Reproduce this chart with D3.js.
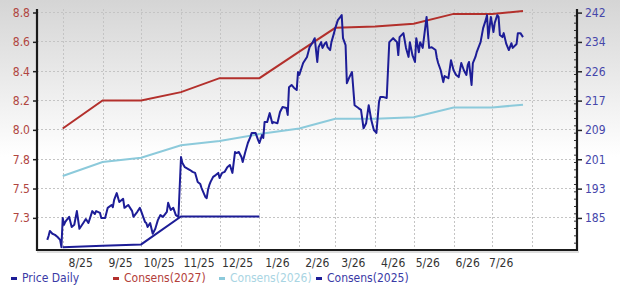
<!DOCTYPE html>
<html><head><meta charset="utf-8">
<script src="https://cdn.jsdelivr.net/npm/d3@7"></script>
<style>
html,body{margin:0;padding:0;background:#fff;}
svg{display:block;}
text{font-family:"DejaVu Sans Condensed","DejaVu Sans",sans-serif;font-stretch:condensed;font-size:12px;}
</style></head><body>
<svg id="chart" width="620" height="285"></svg>
<script>
// ---------- DATA ----------
const leftTicks  = [8.8, 8.59, 8.38, 8.17, 7.96, 7.75, 7.54, 7.33];
const leftLabels = ["8.8","8.6","8.4","8.2","8.0","7.8","7.5","7.3"];
const rightTicks  = [242, 233.86, 225.71, 217.57, 209.43, 201.29, 193.14, 185];
const rightLabels = ["242","234","226","217","209","201","193","185"];
const monthLabels = ["8/25","9/25","10/25","11/25","12/25","1/26","2/26","3/26","4/26","5/26","6/26","7/26"];
const labelDates  = ["2025-08-15","2025-09-15","2025-10-15","2025-11-15","2025-12-15","2026-01-15","2026-02-15","2026-03-15","2026-04-15","2026-05-12","2026-06-12","2026-07-08"];
const gridDates   = ["2025-08-01","2025-09-01","2025-10-01","2025-11-01","2025-12-01","2026-01-01","2026-02-01","2026-03-01","2026-04-01","2026-05-01","2026-06-01","2026-07-01","2026-08-01"];

const consDates = ["2025-08-01","2025-09-01","2025-10-01","2025-11-01","2025-12-01","2026-01-01","2026-02-01","2026-03-01","2026-04-01","2026-05-01","2026-06-01","2026-07-01","2026-07-25"];
const cons2027 = [7.97, 8.17, 8.17, 8.23, 8.33, 8.33, 8.52, 8.69, 8.70, 8.72, 8.79, 8.79, 8.81];
const cons2026 = [7.63, 7.73, 7.76, 7.85, 7.88, 7.93, 7.97, 8.04, 8.04, 8.05, 8.12, 8.12, 8.14];
const cons2025 = [7.12, 7.13, 7.14, 7.34, 7.34, 7.34];

const priceDates = ["2025-07-20","2025-07-21","2025-07-22","2025-07-24","2025-07-26","2025-07-28","2025-07-30","2025-07-31","2025-08-01","2025-08-02",
"2025-08-03","2025-08-04","2025-08-06","2025-08-08","2025-08-10","2025-08-12","2025-08-14","2025-08-17","2025-08-19","2025-08-21",
"2025-08-24","2025-08-26","2025-08-27","2025-08-30","2025-08-31","2025-09-03","2025-09-05","2025-09-08","2025-09-09","2025-09-10",
"2025-09-12","2025-09-14","2025-09-17","2025-09-18","2025-09-21","2025-09-24","2025-09-25","2025-09-28","2025-09-30","2025-10-01",
"2025-10-04","2025-10-05","2025-10-06","2025-10-08","2025-10-10","2025-10-12","2025-10-14","2025-10-16","2025-10-18","2025-10-21",
"2025-10-22","2025-10-24","2025-10-26","2025-10-28","2025-10-30","2025-11-01","2025-11-02","2025-11-04","2025-11-05","2025-11-08",
"2025-11-10","2025-11-12","2025-11-14","2025-11-16","2025-11-17","2025-11-20","2025-11-21","2025-11-22","2025-11-23","2025-11-24",
"2025-11-26","2025-11-28","2025-11-30","2025-12-01","2025-12-03","2025-12-05","2025-12-07","2025-12-09","2025-12-11","2025-12-13",
"2025-12-14","2025-12-16","2025-12-18","2025-12-19","2025-12-21","2025-12-23","2025-12-25","2025-12-26","2025-12-28","2025-12-29",
"2025-12-31","2026-01-01","2026-01-03","2026-01-04","2026-01-05","2026-01-07","2026-01-09","2026-01-11","2026-01-12","2026-01-15",
"2026-01-17","2026-01-19","2026-01-22","2026-01-23","2026-01-24","2026-01-26","2026-01-28","2026-01-30","2026-01-31","2026-02-01",
"2026-02-04","2026-02-07","2026-02-09","2026-02-11","2026-02-13","2026-02-15","2026-02-16","2026-02-18","2026-02-19","2026-02-21",
"2026-02-22","2026-02-23","2026-02-25","2026-02-26","2026-02-28","2026-03-01","2026-03-03","2026-03-05","2026-03-06","2026-03-07",
"2026-03-09","2026-03-10","2026-03-12","2026-03-14","2026-03-16","2026-03-19","2026-03-21","2026-03-23","2026-03-25","2026-03-27",
"2026-03-29","2026-03-31","2026-04-02","2026-04-04","2026-04-05","2026-04-07","2026-04-10","2026-04-12","2026-04-15","2026-04-18",
"2026-04-19","2026-04-20","2026-04-23","2026-04-25","2026-04-27","2026-04-28","2026-04-30","2026-05-02","2026-05-03","2026-05-05",
"2026-05-06","2026-05-08","2026-05-11","2026-05-13","2026-05-15","2026-05-18","2026-05-19","2026-05-20","2026-05-22","2026-05-24",
"2026-05-25","2026-05-28","2026-05-30","2026-06-01","2026-06-03","2026-06-05","2026-06-07","2026-06-09","2026-06-11","2026-06-12",
"2026-06-13","2026-06-15","2026-06-16","2026-06-18","2026-06-19","2026-06-22","2026-06-24","2026-06-26","2026-06-27","2026-06-28",
"2026-06-30","2026-07-02","2026-07-03","2026-07-05","2026-07-06","2026-07-07","2026-07-09","2026-07-10","2026-07-12","2026-07-14",
"2026-07-16","2026-07-17","2026-07-20","2026-07-21","2026-07-23","2026-07-25"];
const priceValues = [178.9,180.0,181.4,180.6,180.3,179.7,178.9,176.9,185.0,183.1,
183.9,184.4,185.3,182.5,183.1,186.9,182.0,183.6,184.7,183.6,
186.9,186.1,186.9,186.4,185.0,185.0,187.8,188.6,188.0,190.0,
191.9,189.4,190.3,187.8,188.6,186.9,185.3,186.7,187.8,186.9,
183.9,183.6,182.5,183.6,180.6,182.0,184.4,185.8,185.3,186.7,
189.2,187.2,187.8,185.8,185.3,201.9,200.3,199.1,198.9,198.3,
197.8,197.5,195.0,194.4,193.3,190.8,190.5,192.8,194.1,195.0,
196.4,196.9,197.5,196.1,197.5,197.8,199.1,199.7,197.5,203.3,
203.0,203.3,201.9,200.5,203.3,205.8,207.5,208.6,208.6,208.6,
206.6,205.8,208.0,207.2,211.6,211.6,214.1,211.3,211.6,211.3,
214.4,215.8,215.5,213.6,221.3,221.9,221.1,220.5,225.5,224.7,
228.0,229.7,232.4,233.5,234.9,228.3,232.4,233.8,232.2,233.5,
233.8,232.4,231.6,233.8,236.3,237.7,239.9,240.8,241.3,234.9,
233.0,222.4,224.1,225.5,216.3,215.5,215.0,209.9,211.3,216.3,
212.2,209.4,208.6,217.2,218.6,218.6,218.3,233.8,234.9,233.8,
230.2,235.2,236.3,232.2,229.7,233.8,230.2,228.3,234.9,231.0,
233.8,232.2,240.8,232.2,232.4,231.6,229.4,228.0,226.0,222.7,
224.4,223.8,228.8,226.0,224.7,224.1,228.0,226.0,224.7,227.4,
228.3,221.9,228.0,229.7,231.0,233.8,237.7,239.9,241.3,234.9,
240.8,236.6,239.1,241.3,240.8,235.8,235.2,236.3,233.3,231.6,
233.5,232.2,233.3,236.3,236.3,235.2];

const legendNames  = ["Price Daily","Consens(2027)","Consens(2026)","Consens(2025)"];

// ---------- STYLE / LAYOUT ----------
const C_PRICE = "#1d1d97", C_27 = "#b3302c", C_26 = "#8ccadb", C_25 = "#1d1d97";
const legendColors = [C_PRICE, C_27, C_26, C_25];
const legendText   = ["#3a3aa6", "#b3403a", "#a9d5e3", "#3a3aa6"];
const legendX = [22, 124, 230, 327];
const L = 37, R = 577, T = 9, B = 250;

const parse = d3.timeParse("%Y-%m-%d");
const svg = d3.select("#chart");

// background gradient
const defs = svg.append("defs");
const g = defs.append("linearGradient").attr("id","bg").attr("x1",0).attr("y1",0).attr("x2",0).attr("y2",1);
g.append("stop").attr("offset","0%").attr("stop-color","#d5d5d5");
g.append("stop").attr("offset","55%").attr("stop-color","#ffffff");
g.append("stop").attr("offset","100%").attr("stop-color","#ffffff");
svg.append("rect").attr("width",620).attr("height",285).attr("fill","url(#bg)");

const x = d3.scaleTime().domain([parse("2025-07-12"), parse("2026-09-05")]).range([L, R]);
const yL = d3.scaleLinear().domain([7.10, 8.825]).range([B, T]);
const yR = d3.scaleLinear().domain([176.1, 243.0]).range([B, T]);

// grid
svg.append("g").selectAll("line").data(leftTicks).join("line")
  .attr("x1", L).attr("x2", R).attr("y1", d=>yL(d)).attr("y2", d=>yL(d))
  .attr("stroke","#c4c4c4").attr("stroke-width",1).attr("stroke-dasharray","2,2").attr("shape-rendering","crispEdges");
svg.append("g").selectAll("line").data(gridDates).join("line")
  .attr("x1", d=>Math.round(x(parse(d)))+0.5).attr("x2", d=>Math.round(x(parse(d)))+0.5).attr("y1", T).attr("y2", B)
  .attr("stroke","#c4c4c4").attr("stroke-width",1).attr("stroke-dasharray","2,2");

// left axis
const axL = svg.append("g").attr("transform",`translate(${L},0)`)
  .call(d3.axisLeft(yL).tickValues(leftTicks).tickFormat((d,i)=>leftLabels[i]).tickSize(4).tickSizeOuter(0).tickPadding(3));
axL.select(".domain").remove();
axL.selectAll(".tick line").attr("stroke","#222").attr("stroke-width",1.5);
axL.selectAll(".tick text").attr("fill","#b0463f").style("font-size","12px");

// right axis minor ticks
const minor = d3.range(0, 34).map(i => 176.1 + 0.0 + i*(242-185)/28).filter(v=>v>=176.5 && v<=243);
svg.append("g").attr("transform",`translate(${R},0)`)
  .call(d3.axisLeft(yR).tickValues(minor).tickSize(3).tickSizeOuter(0).tickFormat(""))
  .call(a=>a.select(".domain").remove())
  .selectAll(".tick line").attr("stroke","#333").attr("stroke-width",1);
// right axis major
const axR = svg.append("g").attr("transform",`translate(${R},0)`)
  .call(d3.axisRight(yR).tickValues(rightTicks).tickFormat((d,i)=>rightLabels[i]).tickSize(5).tickSizeOuter(0).tickPadding(3));
axR.select(".domain").remove();
axR.selectAll(".tick line").attr("stroke","#222").attr("stroke-width",1.5);
axR.selectAll(".tick text").attr("fill","#4646aa").style("font-size","12px");

// axis frame lines
svg.append("line").attr("x1",L).attr("x2",L).attr("y1",T).attr("y2",B+1).attr("stroke","#1a1a1a").attr("stroke-width",2.2);
svg.append("line").attr("x1",R).attr("x2",R).attr("y1",T).attr("y2",B+1).attr("stroke","#1a1a1a").attr("stroke-width",2.2);
svg.append("line").attr("x1",L-1).attr("x2",R+1).attr("y1",B).attr("y2",B).attr("stroke","#1a1a1a").attr("stroke-width",2.2);
svg.append("line").attr("x1",L).attr("x2",R+2).attr("y1",B+2).attr("y2",B+2).attr("stroke","#bbb").attr("stroke-width",1);

// x labels
svg.append("g").selectAll("text").data(monthLabels).join("text")
  .attr("x",(d,i)=>x(parse(labelDates[i]))).attr("y",267)
  .attr("text-anchor","middle").attr("fill","#333").text(d=>d);

// series
const lineL = d3.line().x(d=>x(d[0])).y(d=>yL(d[1]));
const lineR = d3.line().x(d=>x(d[0])).y(d=>yR(d[1]));
const s26 = consDates.map((d,i)=>[parse(d), cons2026[i]]);
const s27 = consDates.map((d,i)=>[parse(d), cons2027[i]]);
const s25 = cons2025.map((v,i)=>[parse(consDates[i]), v]);
const sp  = priceDates.map((d,i)=>[parse(d), priceValues[i]]);

svg.append("path").attr("d", lineL(s26)).attr("fill","none").attr("stroke",C_26).attr("stroke-width",2);
svg.append("path").attr("d", lineL(s27)).attr("fill","none").attr("stroke",C_27).attr("stroke-width",2);
svg.append("path").attr("d", lineL(s25)).attr("fill","none").attr("stroke",C_25).attr("stroke-width",2);
svg.append("path").attr("d", lineR(sp)).attr("fill","none").attr("stroke",C_PRICE).attr("stroke-width",2).attr("stroke-linejoin","round");

// legend
const lg = svg.append("g").selectAll("g").data(legendNames).join("g");
lg.append("rect").attr("x",(d,i)=>legendX[i]-11).attr("y",277).attr("width",6).attr("height",3).attr("fill",(d,i)=>legendColors[i]);
lg.append("text").attr("x",(d,i)=>legendX[i]).attr("y",282).attr("fill",(d,i)=>legendText[i]).text(d=>d);
</script></body></html>
